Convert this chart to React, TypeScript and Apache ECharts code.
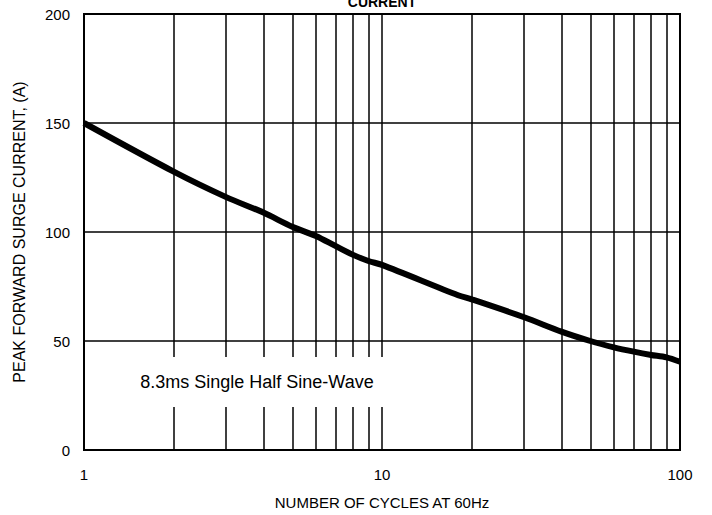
import React, { useEffect, useRef } from "react";
import * as echarts from "echarts";

const cycles = [1, 2, 3, 4, 5, 6, 7, 8, 9, 10, 18, 20, 30, 40, 50, 60, 70, 80, 90, 100];
const current = [150, 127.7, 116, 108.9, 102.4, 98.2, 93.5, 89.5, 86.7, 84.9, 71, 69.1, 60.9, 54.3, 50, 47.1, 45.1, 43.6, 42.5, 40.5];
const minorGridX = [2, 3, 4, 5, 6, 7, 8, 9, 20, 30, 40, 50, 60, 70, 80, 90];
const yTicks = { min: 0, max: 200, interval: 50 };
const titleText = "CURRENT";
const noteText = "8.3ms Single Half Sine-Wave";
const xName = "NUMBER OF CYCLES AT 60Hz";
const yName = "PEAK FORWARD SURGE CURRENT, (A)";

export default function App() {
  const ref = useRef<HTMLDivElement>(null);
  useEffect(() => {
    if (!ref.current) return;
    const chart = echarts.init(ref.current, null, { renderer: "svg" });
    const font = "Liberation Sans, Arial, sans-serif";
    chart.setOption({
      animation: false,
      backgroundColor: "#ffffff",
      grid: {
        left: 84,
        right: 32,
        top: 14,
        bottom: 65,
        show: true,
        borderColor: "#000",
        borderWidth: 2,
        backgroundColor: "transparent",
      },
      xAxis: {
        type: "log",
        logBase: 10,
        min: 1,
        max: 100,
        name: xName,
        nameLocation: "middle",
        nameGap: 45,
        nameTextStyle: { fontFamily: font, fontSize: 15, color: "#000" },
        axisLine: { show: true, lineStyle: { color: "#000", width: 2 } },
        axisTick: { show: false },
        axisLabel: { fontFamily: font, fontSize: 15, color: "#000", margin: 17 },
        splitLine: { show: true, lineStyle: { color: "#000", width: 1.5 } },
      },
      yAxis: {
        type: "value",
        min: yTicks.min,
        max: yTicks.max,
        interval: yTicks.interval,
        name: yName,
        nameLocation: "middle",
        nameGap: 57,
        nameTextStyle: { fontFamily: font, fontSize: 16, color: "#000" },
        axisLine: { show: true, lineStyle: { color: "#000", width: 2 } },
        axisTick: { show: false },
        axisLabel: { fontFamily: font, fontSize: 15, color: "#000", margin: 14 },
        splitLine: { show: true, lineStyle: { color: "#000", width: 1.5 } },
      },
      series: [
        {
          type: "line",
          data: cycles.map((c, i) => [c, current[i]]),
          showSymbol: false,
          symbol: "none",
          smooth: 0.3,
          lineStyle: { color: "#000", width: 6 },
          z: 5,
          markLine: {
            silent: true,
            symbol: "none",
            label: { show: false },
            lineStyle: { color: "#000", width: 1.5, type: "solid" },
            data: minorGridX.map((v) => ({ xAxis: v })),
            z: 1,
          },
        },
      ],
      graphic: [
        {
          type: "rect",
          shape: { x: 100, y: 357, width: 298, height: 50 },
          style: { fill: "#ffffff" },
          z: 10,
        },
        {
          type: "text",
          x: 257,
          y: 382,
          style: {
            text: noteText,
            fontFamily: font,
            fontSize: 18,
            fill: "#000",
            align: "center",
            verticalAlign: "middle",
          },
          z: 11,
        },
        {
          type: "text",
          x: 382,
          y: 2,
          style: {
            text: titleText,
            fontFamily: font,
            fontSize: 14,
            fontWeight: "bold",
            fill: "#000",
            align: "center",
            verticalAlign: "middle",
          },
          z: 11,
        },
      ],
    });
    return () => chart.dispose();
  }, []);
  return (
    <div
      ref={ref}
      style={{ position: "fixed", left: 0, top: 0, width: 712, height: 515 }}
    />
  );
}
